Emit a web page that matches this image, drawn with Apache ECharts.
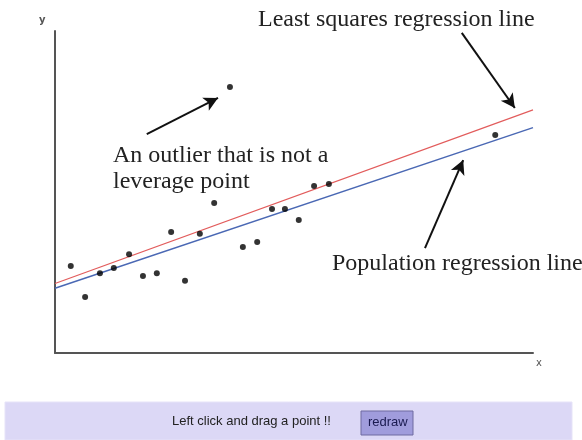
<!DOCTYPE html>
<html>
<head>
<meta charset="utf-8">
<script src="https://cdn.jsdelivr.net/npm/echarts@6/dist/echarts.min.js"></script>
<style>
  html, body { margin: 0; padding: 0; background: #fff; }
  #chart { width: 582px; height: 440px; }
</style>
</head>
<body>
<div id="chart"></div>
<script>
// scatter points (x, y)
const pointsX = [0.33, 0.63, 0.94, 1.23, 1.55, 1.84, 2.13, 2.43, 2.72, 3.03, 3.33, 3.66, 3.93, 4.23, 4.54, 4.81, 5.10, 5.42, 5.73, 9.21];
const pointsY = [2.70, 1.74, 2.48, 2.64, 3.07, 2.39, 2.48, 3.76, 2.24, 3.70, 4.66, 8.26, 3.29, 3.45, 4.47, 4.47, 4.13, 5.19, 5.25, 6.77];

// regression lines: [x, y] ends
const leastSquaresLine = [[0, 2.16], [10, 7.55]];
const populationLine = [[0, 2.01], [10, 7.00]];

// annotation arrows [from, to]
const arrows = [
  [[8.51, 9.94], [9.62, 7.61]],
  [[1.92, 6.80], [3.41, 7.92]],
  [[7.74, 3.26], [8.54, 5.99]]
];

const chart = echarts.init(document.getElementById("chart"));
const serif = "'Liberation Serif', 'DejaVu Serif', serif";

const option = {
  backgroundColor: "#ffffff",
  animation: false,
  grid: { left: 55, right: 49, top: 31, bottom: 87 },
  xAxis: {
    type: "value",
    min: 0,
    max: 10,
    axisLine: { show: true, lineStyle: { color: "#555", width: 2 } },
    axisTick: { show: false },
    axisLabel: { show: false },
    splitLine: { show: false }
  },
  yAxis: {
    type: "value",
    min: 0,
    max: 10,
    axisLine: { show: true, lineStyle: { color: "#555", width: 2 } },
    axisTick: { show: false },
    axisLabel: { show: false },
    splitLine: { show: false }
  },
  series: [
    {
      name: "Least squares regression line",
      type: "line",
      data: leastSquaresLine,
      symbol: "none",
      lineStyle: { color: "#e25c5c", width: 1.2 },
      z: 2
    },
    {
      name: "Population regression line",
      type: "line",
      data: populationLine,
      symbol: "none",
      lineStyle: { color: "#4a68b4", width: 1.5 },
      z: 2
    },
    {
      name: "points",
      type: "scatter",
      data: pointsX.map((x, i) => [x, pointsY[i]]),
      symbol: "circle",
      symbolSize: 6,
      itemStyle: { color: "#000" },
      z: 3,
      markLine: {
        silent: true,
        symbol: ["none", "arrow"],
        symbolSize: [11, 14],
        label: { show: false },
        lineStyle: { color: "#111", width: 2, type: "solid" },
        data: arrows.map(a => [{ coord: a[0] }, { coord: a[1] }])
      }
    }
  ],
  graphic: [
    { type: "text", left: 39, top: 15, style: { text: "y", font: "bold 10px 'DejaVu Sans', sans-serif", fill: "#555" } },
    { type: "text", left: 536, top: 358, style: { text: "x", font: "10px 'DejaVu Sans', sans-serif", fill: "#555" } },
    { type: "text", left: 258, top: 8, style: { text: "Least squares regression line", font: "24px " + serif, fill: "#222" } },
    { type: "text", left: 113, top: 144, style: { text: "An outlier that is not a", font: "24px " + serif, fill: "#222" } },
    { type: "text", left: 113, top: 170, style: { text: "leverage point", font: "24px " + serif, fill: "#222" } },
    { type: "text", left: 332, top: 252, style: { text: "Population regression line", font: "24px " + serif, fill: "#222" } },
    // control panel
    { type: "rect", shape: { x: 5, y: 402, width: 567, height: 38 }, style: { fill: "#dcd8f6", stroke: "#e6e3f8" } },
    { type: "text", left: 172, top: 415, style: { text: "Left click and drag a point !!", font: "13px 'Liberation Sans', Arial, sans-serif", fill: "#222" } },
    { type: "rect", shape: { x: 361, y: 411, width: 52, height: 24 }, style: { fill: "#a09cdc", stroke: "#6e6aa0", lineWidth: 1 } },
    { type: "text", left: 368, top: 416, style: { text: "redraw", font: "13px 'Liberation Sans', Arial, sans-serif", fill: "#1a1a50" } }
  ]
};

chart.setOption(option);
</script>
</body>
</html>
